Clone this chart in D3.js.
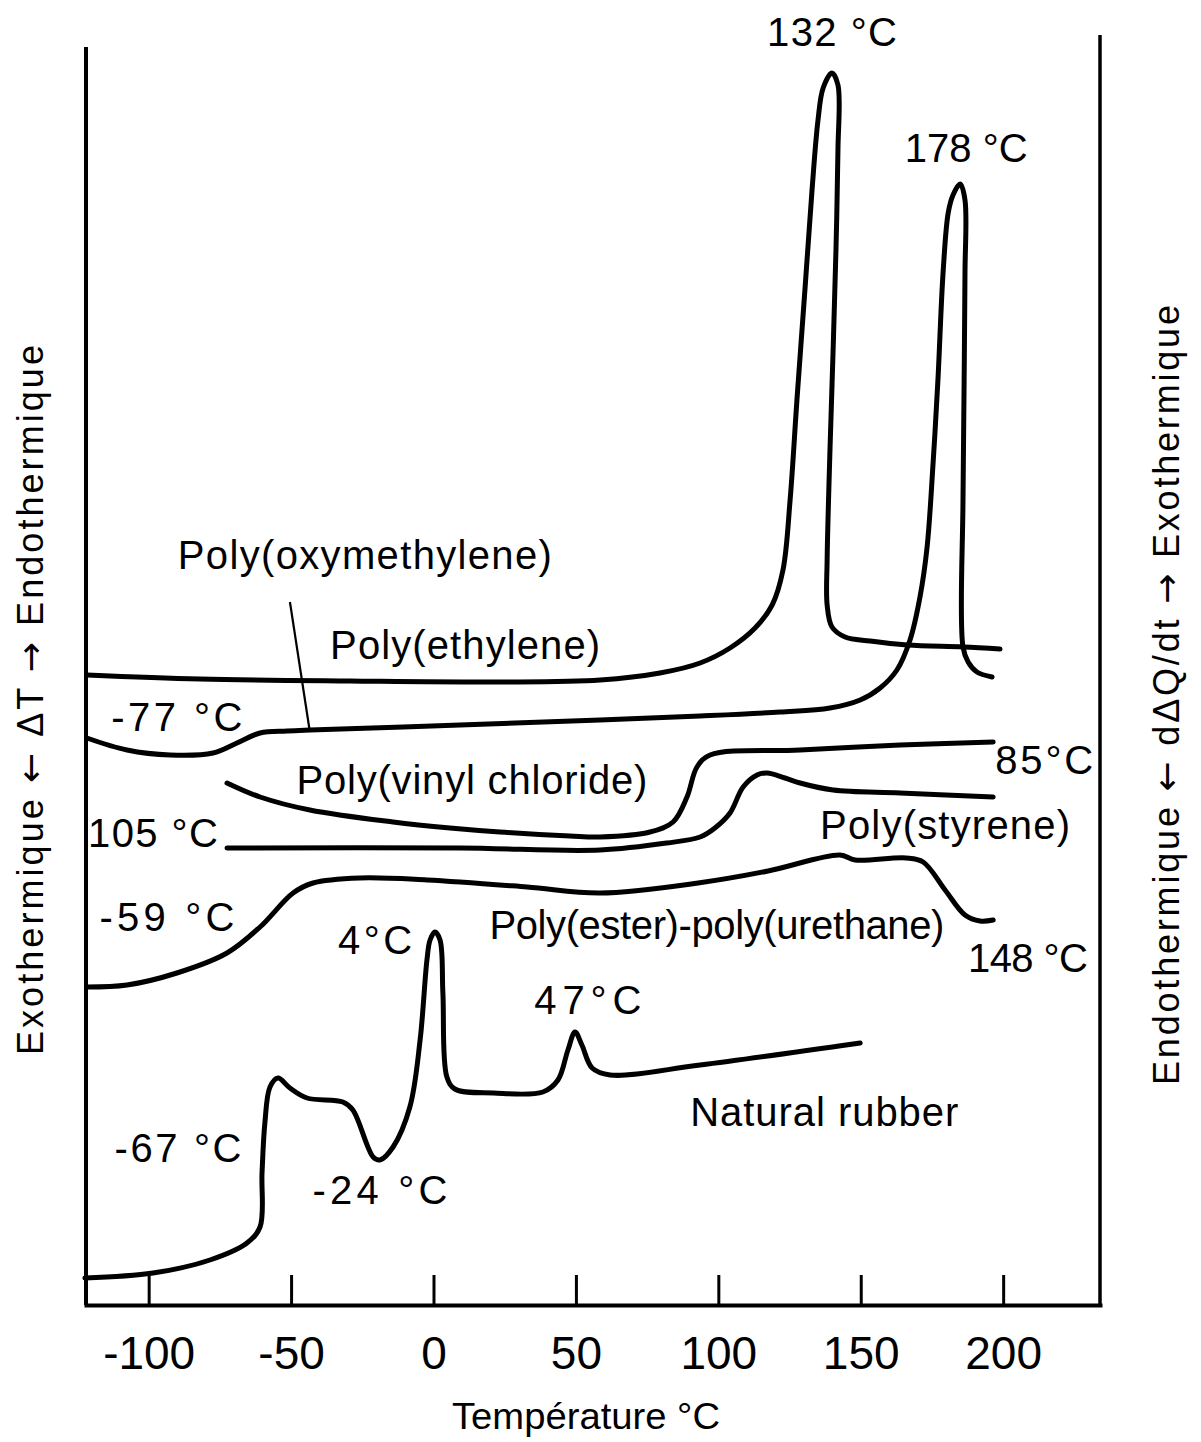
<!DOCTYPE html>
<html>
<head>
<meta charset="utf-8">
<script src="https://cdn.jsdelivr.net/npm/d3@7"></script>
<style>
  html, body { margin: 0; padding: 0; background: #fff; }
  svg { display: block; }
  text { font-family: "Liberation Sans", Arial, sans-serif; fill: #000; }
</style>
</head>
<body>
<svg id="chart" width="1201" height="1442"></svg>
<script>
// ---- Data (temperature °C, relative signal in arbitrary units) ----
const xTicks = [-100, -50, 0, 50, 100, 150, 200];

const polyEthylene = [
  [-121.7,63.0],[-82.0,62.6],[-29.3,62.4],[23.3,62.3],[58.5,62.5],[79.5,63.2],[93.6,64.2],
  [104.1,65.7],[112.9,67.7],[118.9,70.0],[122.7,73.5],[125.2,80.5],[127.6,90.5],[130.4,101.5],
  [132.9,111.5],[135.0,118.5],[136.8,121.7],[139.9,123.2],[142.0,122.0],[142.0,115.5],
  [141.3,105.5],[140.3,95.5],[139.2,85.5],[138.2,74.5],[138.2,70.0],[139.9,67.8],[144.5,66.8],
  [153.3,66.4],[166.3,66.0],[185.9,65.8],[198.9,65.6]
];

const polyOxymethylene = [
  [-121.7,56.7],[-107.6,55.5],[-92.5,55.0],[-77.4,55.2],[-69.0,56.2],[-60.9,57.2],[-51.4,57.4],
  [-43.4,57.5],[9.3,58.0],[58.5,58.5],[93.6,58.9],[121.7,59.3],[139.2,59.7],[149.8,60.5],
  [156.8,61.7],[162.7,63.5],[167.3,66.5],[170.8,70.8],[173.3,75.8],[175.4,84.2],[177.1,92.5],
  [178.9,103.2],[180.7,109.2],[182.4,111.0],[184.9,112.1],[186.6,110.5],[186.6,103.2],
  [186.3,92.5],[185.9,80.5],[185.9,65.8],[187.7,64.3],[190.8,63.3],[196.1,62.8]
];

const polyVinylChloride = [
  [-72.5,52.2],[-60.9,50.8],[-43.4,49.5],[-14.2,48.3],[5.8,47.7],[23.3,47.3],[47.9,46.9],
  [58.5,46.8],[76.0,47.3],[84.1,48.3],[89.0,50.8],[92.5,53.8],[97.1,55.0],[128.7,55.5],
  [163.8,56.0],[196.5,56.3]
];

const polyStyrene = [
  [-72.5,45.7],[9.3,45.7],[58.5,45.5],[82.0,46.2],[93.6,46.8],[98.8,47.7],[104.1,49.2],
  [108.7,51.8],[113.6,53.0],[117.1,53.2],[123.4,52.7],[128.7,52.2],[140.3,51.5],[163.8,51.2],
  [196.5,50.8]
];

const polyEsterUrethane = [
  [-121.7,31.8],[-107.6,32.0],[-90.1,33.2],[-72.5,35.2],[-60.9,37.8],[-49.3,41.2],[-42.3,42.2],
  [-25.8,42.7],[-2.3,42.5],[32.8,41.8],[58.5,41.2],[92.9,42.2],[117.5,43.4],[142.7,45.0],
  [148.0,44.5],[165.9,44.7],[171.9,44.3],[179.6,41.5],[186.6,39.0],[191.9,38.4],[196.5,38.5]
];

const naturalRubber = [
  [-122.4,2.7],[-98.5,3.2],[-78.5,4.5],[-65.5,6.2],[-60.9,7.8],[-60.2,13.2],[-59.2,18.2],
  [-57.4,21.8],[-54.6,22.7],[-50.4,21.7],[-44.4,20.7],[-31.8,20.3],[-28.3,19.5],[-21.2,14.8],
  [-18.8,14.5],[-14.2,15.8],[-8.3,19.8],[-4.7,26.5],[-2.3,34.5],[-1.2,36.5],[0.5,37.3],
  [2.3,36.5],[3.3,31.2],[4.7,22.8],[7.5,21.6],[21.1,21.2],[38.4,21.3],[43.7,22.5],[47.2,25.5],
  [49.7,27.3],[52.1,26.0],[55.7,23.7],[62.0,23.0],[93.6,24.0],[149.8,26.2]
];

const leaderLine = [[-50.4,70.3],[-43.4,57.3]];

const curves = [polyEthylene, polyOxymethylene, polyVinylChloride, polyStyrene, polyEsterUrethane, naturalRubber];

// Annotation texts anchored in data units (center of text)
const labels = [
  {t:"132 °C", x:139.9, y:127.3},
  {t:"178 °C", x:187.0, y:115.7},
  {t:"Poly(oxymethylene)", x:-24.1, y:75.0},
  {t:"Poly(ethylene)", x:11.1, y:66.0},
  {t:"-77 °C", x:-90.1, y:58.8},
  {t:"Poly(vinyl chloride)", x:13.5, y:52.5},
  {t:"85°C", x:214.4, y:54.5},
  {t:"105 °C", x:-98.5, y:47.2},
  {t:"Poly(styrene)", x:179.6, y:48.0},
  {t:"-59 °C", x:-93.6, y:38.8},
  {t:"4°C", x:-20.5, y:36.5},
  {t:"Poly(ester)-poly(urethane)", x:99.5, y:38.0},
  {t:"148 °C", x:208.7, y:34.7},
  {t:"47°C", x:54.2, y:30.5},
  {t:"-67 °C", x:-89.7, y:15.7},
  {t:"-24 °C", x:-18.8, y:11.5},
  {t:"Natural rubber", x:137.2, y:19.3}
];

const leftTitle = ["Exothermique ", "←", " ΔT ", "→", " Endothermique"];
const rightTitle = ["Endothermique ", "←", " dΔQ/dt ", "→", " Exothermique"];

// ---- Layout ----
const labelWidths = {
  "132 °C":130, "178 °C":123, "Poly(oxymethylene)":374, "Poly(ethylene)":270, "-77 °C":131,
  "Poly(vinyl chloride)":351, "85°C":98, "105 °C":130, "Poly(styrene)":250, "-59 °C":135,
  "4°C":74, "Poly(ester)-poly(urethane)":455, "148 °C":120, "47°C":107, "-67 °C":127,
  "-24 °C":135, "Natural rubber":268
};

const svg = d3.select("#chart");
const x = d3.scaleLinear().domain([-122, 234]).range([86, 1100]);
const y = d3.scaleLinear().domain([0, 127]).range([1305, 35]);

// Bottom axis with inward ticks
const axis = d3.axisBottom(x).tickValues(xTicks).tickFormat(d => String(d))
  .tickSizeInner(-30).tickSizeOuter(0).tickPadding(31);
const gx = svg.append("g").attr("transform", `translate(0,${y(0)})`).call(axis);
gx.select(".domain").attr("stroke", "#000").attr("stroke-width", 4).attr("stroke-linecap", "square");
gx.selectAll(".tick line").attr("stroke", "#000").attr("stroke-width", 3);
gx.selectAll(".tick text").attr("font-size", 46).attr("font-family", "Liberation Sans, Arial, sans-serif").attr("fill", "#000");

// Side borders
svg.append("line").attr("x1", x(-122)).attr("x2", x(-122)).attr("y1", y(0)).attr("y2", y(125.8))
  .attr("stroke", "#000").attr("stroke-width", 4);
svg.append("line").attr("x1", x(234)).attr("x2", x(234)).attr("y1", y(0)).attr("y2", y(127))
  .attr("stroke", "#000").attr("stroke-width", 3.5);

// Curves
const line = d3.line().x(d => x(d[0])).y(d => y(d[1])).curve(d3.curveCatmullRom.alpha(0.5));
svg.append("g").selectAll("path").data(curves).join("path")
  .attr("d", line).attr("fill", "none").attr("stroke", "#000").attr("stroke-width", 5)
  .attr("stroke-linecap", "round").attr("stroke-linejoin", "round");

svg.append("path").attr("d", d3.line().x(d => x(d[0])).y(d => y(d[1]))(leaderLine))
  .attr("fill", "none").attr("stroke", "#000").attr("stroke-width", 2.2);

// Labels
svg.append("g").selectAll("text").data(labels).join("text")
  .attr("x", d => x(d.x)).attr("y", d => y(d.y)).attr("dy", "0.36em")
  .attr("text-anchor", "middle").attr("font-size", 40)
  .attr("textLength", d => labelWidths[d.t]).attr("lengthAdjust", "spacing")
  .text(d => d.t);

// Axis title
svg.append("text").attr("x", 586).attr("y", 1416).attr("dy", "0.36em").attr("text-anchor", "middle")
  .attr("font-size", 37).attr("textLength", 268).attr("lengthAdjust", "spacingAndGlyphs").text("Température °C");

// Vertical titles (arrows drawn in DejaVu Sans for full-width arrow glyphs)
function verticalTitle(parts, cx, cy, len) {
  const t = svg.append("text").attr("transform", `translate(${cx},${cy}) rotate(-90)`).attr("dy", "0.36em")
    .attr("text-anchor", "middle").attr("font-size", 36).attr("textLength", len).attr("lengthAdjust", "spacing");
  t.selectAll("tspan").data(parts).join("tspan")
    .attr("font-family", (d, i) => i % 2 === 1 ? "DejaVu Sans, sans-serif" : null)
    .text(d => d);
}
verticalTitle(leftTitle, 30, 700, 710);
verticalTitle(rightTitle, 1166, 695, 780);
</script>
</body>
</html>
